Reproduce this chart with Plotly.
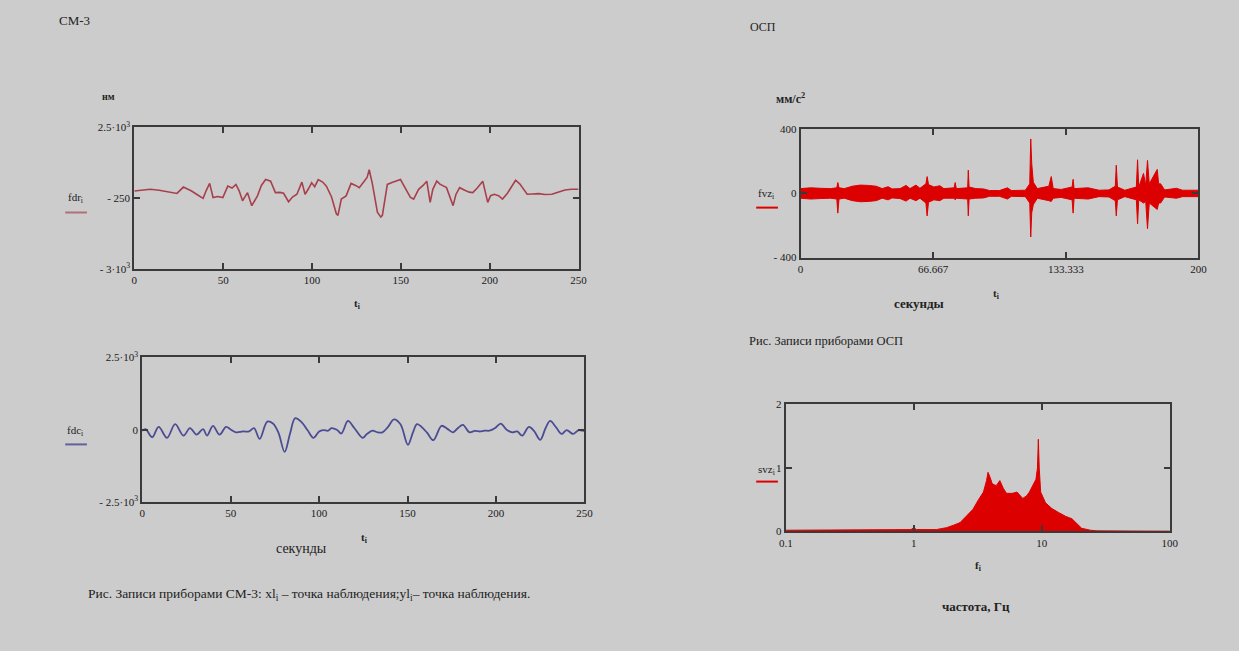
import plotly.graph_objects as go

# The page keeps the browser's default 8px body margin, so the figure is sized to fit the
# 1255x667 window exactly and all reference pixel positions are shifted by that margin.
WIN_W, WIN_H = 1255, 667
OFF = 8
W, H = WIN_W - 2 * OFF, WIN_H - 2 * OFF

# ---------------- data ----------------
# CM-3, first record (fdr), time in seconds
fdr_t = [0, 4, 9, 14, 19, 24, 27.6, 30, 32.2, 35, 38.7, 40.5, 42.4, 44.3, 47, 49.8, 52.6, 55, 57.2,
         59, 60.9, 63.7, 66.1, 69.3, 71.5, 73.9, 76.7, 79.4, 82, 84, 86.8, 89, 91.5, 94.3, 96.1, 98, 99.8,
         101.5, 103.5, 106, 108.1, 111, 113.7, 114.6, 116.5, 119.2, 122, 124.5, 126.6, 129.4, 131, 132.2,
         134, 136.8, 138.7, 139.6, 142.4, 145, 147, 149.8, 152, 155.4, 157.2, 160, 162.5, 164.6, 166.5,
         168, 170.2, 172, 175.7, 179.4, 181, 183.1, 186, 188.5, 190.5, 193, 196.1, 198.9, 200.5, 202.6,
         205, 207.2, 210, 212.5, 214.6, 217, 219, 221.1, 224, 227.6, 231, 235, 238, 242.4, 246, 250]
fdr_v = [34, 70, 100, 60, 10, -60, 186, 120, 34, -92, -254, 60, 327, -218, -180, -218, 224, 150, 288,
         40, -345, -30, -534, -155, 250, 478, 415, -30, -20, -55, -383, -200, -92, 376, -92, 120, 351,
         200, 478, 380, 224, -200, -850, -914, -280, -155, 327, 250, 160, 415, 560, 857,
         300, -787, -978, -913, 288, 360, 415, 478, 200, -218, -280, 100, 250, 414, -409,
         100, 414, 300, 163, -534, -100, 163, 60, -10, -27, 150, 414, -409, -150, -92,
         -150, -280, -50, 250, 452, 300, 100, -92, -80, -70, -100, -92, -20, 72, 100, 100]

# CM-3, second record (fdc)
fdc_t = [0, 1.9, 5.6, 9.3, 14, 18.6, 23.3, 27, 30.7, 34.4, 36.6, 40, 43.7, 47.4, 50, 53, 57, 60.4,
         63.2, 66.4, 70.7, 73.9, 77, 80.5, 83.5, 86.5, 90.3, 93.5, 96.8, 100, 102.3, 105.1, 107, 110,
         112.6, 116.3, 120, 124.6, 127, 130.2, 133, 135.8, 139, 142.3, 146, 150.2, 153, 155.3, 157.5,
         161, 164.6, 169.2, 172.5, 175.7, 178.5, 181.3, 185, 188, 191, 193.5, 196.2, 199.5, 202.7, 206,
         209.2, 212, 214.8, 218.6, 221.5, 225, 228, 230.6, 234, 237.1, 239.9, 243.6, 246.5, 249.2, 250]
fdc_v = [-34, 22, -259, 101, -281, 191, -203, 56, -169, 22, -203, 135, -169, 101, 10, -90, -60, -56,
         56, -315, 281, 214, -100, -765, -150, 400, 248, -20, -281, -60, -11, -34, 56, 0,
         -130, 304, 50, -281, -150, -34, -90, -90, 100, 360, 191, -520, -100, 191, 120,
         -100, -360, 135, 30, -90, 60, 168, -90, -40, -60, -30, -34, 60, 214, 0,
         -90, -60, -203, 101, -40, -349, 50, 304, 80, -146, -11, -146, -20, -34, -34]

# OSP acceleration record (fvz): envelope of the oscillation, mm/s^2
fvz_t = [0, 5, 10, 15, 18.2, 18.7, 19.3, 22, 26, 30, 34, 38, 41, 44, 46, 50, 53, 55, 58, 60, 63,
         63.6, 64.3, 67, 70, 72, 77.2, 77.7, 78.3, 84, 84.3, 84.7, 88, 92, 95, 100, 104, 106, 113,
         115.2, 115.7, 116.2, 117, 119, 124.8, 126, 127, 131, 136.5, 137, 137.5, 144.6, 150, 155,
         158.2, 158.7, 159.3, 163, 168.8, 169.4, 170, 172.4, 173.5, 174.4, 175.3, 179.3, 180, 181,
         183, 189, 192, 200]
fvz_hi = [30, 35, 32, 30, 35, 68, 35, 30, 45, 52, 50, 45, 30, 42, 28, 30, 50, 30, 52, 32, 60,
          105, 55, 40, 48, 30, 35, 68, 30, 35, 145, 40, 30, 28, 18, 18, 35, 18, 20,
          60, 340, 185, 70, 30, 45, 105, 30, 25, 40, 88, 30, 35, 20, 22,
          45, 176, 40, 20, 40, 210, 40, 125, 50, 206, 60, 150, 60, 60,
          22, 32, 20, 20]
fvz_lo = [-30, -35, -32, -30, -35, -123, -35, -30, -45, -52, -50, -45, -30, -40, -28, -32, -48, -30, -45, -30, -60,
          -140, -55, -40, -45, -30, -30, -40, -30, -35, -140, -35, -30, -28, -18, -18, -35, -18, -20,
          -60, -272, -120, -70, -30, -45, -50, -30, -25, -40, -123, -30, -35, -20, -22,
          -45, -140, -40, -20, -40, -190, -40, -60, -50, -220, -60, -100, -60, -60,
          -22, -30, -20, -20]

# OSP spectrum (svz): envelope, frequency in Hz
svz_f = [0.1, 0.2, 0.5, 0.95, 1.0, 1.05, 1.5, 1.8, 2.05, 2.3, 2.6, 2.9, 3.2, 3.5, 3.7, 3.8, 3.95, 4.1,
         4.4, 4.7, 5.0, 5.3, 5.9, 6.4, 7.1, 7.6, 8.0, 8.7, 9.0, 9.25, 9.4, 9.55, 9.8, 10.7, 12, 13.5,
         15.3, 17.2, 18.8, 20.5, 24, 27, 100]
svz_v = [0.02, 0.02, 0.02, 0.03, 0.06, 0.03, 0.03, 0.06, 0.1, 0.14, 0.25, 0.35, 0.5, 0.62, 0.8, 0.93,
         0.85, 0.75, 0.72, 0.8, 0.68, 0.6, 0.6, 0.62, 0.52, 0.56, 0.62, 0.75, 0.82, 1.0, 1.45, 1.0, 0.62,
         0.45, 0.36, 0.3, 0.24, 0.2, 0.12, 0.05, 0.02, 0.01, 0.005]

# ---------------- layout helpers (window pixel -> paper fraction) ----------------
def px_x(x):
    return (x - OFF) / W

def px_y(y):
    return 1 - (y - OFF) / H

SERIF = "Liberation Serif"
GRAY = "#cccccc"
FRAME = "#3a3a3a"
RED = "#dd0000"

fig = go.Figure()

fig.add_trace(go.Scatter(x=fdr_t, y=fdr_v, mode="lines", line=dict(color="#a8404c", width=1.6),
                         xaxis="x", yaxis="y", showlegend=False))
fig.add_trace(go.Scatter(x=fdc_t, y=fdc_v, mode="lines", line=dict(color="#4c4c94", width=1.8, shape="spline"),
                         xaxis="x2", yaxis="y2", showlegend=False))
fig.add_trace(go.Scatter(x=fvz_t, y=fvz_hi, mode="lines", line=dict(color=RED, width=1),
                         xaxis="x3", yaxis="y3", showlegend=False))
fig.add_trace(go.Scatter(x=fvz_t, y=fvz_lo, mode="lines", line=dict(color=RED, width=1),
                         fill="tonexty", fillcolor=RED, xaxis="x3", yaxis="y3", showlegend=False))
fig.add_trace(go.Scatter(x=svz_f, y=svz_v, mode="lines", line=dict(color=RED, width=1),
                         fill="tozeroy", fillcolor=RED, xaxis="x4", yaxis="y4", showlegend=False))

def axis_common(**kw):
    d = dict(showline=True, linecolor=FRAME, linewidth=2, mirror="ticks", ticks="inside",
             ticklen=6, tickwidth=1.5, tickcolor=FRAME, showgrid=False, zeroline=False,
             tickfont=dict(family=SERIF, size=11, color="#1a1a1a"), fixedrange=True)
    d.update(kw)
    return d

panels = {
    "1": (137, 587, 130, 275),
    "2": (145, 593, 365, 513),
    "3": (812, 1215, 132, 263),
    "4": (797, 1186, 413, 543),
}

def dom(p):
    x0, x1, y0, y1 = panels[p]
    return [px_x(x0), px_x(x1)], [px_y(y1), px_y(y0)]

d1x, d1y = dom("1")
d2x, d2y = dom("2")
d3x, d3y = dom("3")
d4x, d4y = dom("4")

fig.update_layout(
    xaxis=axis_common(domain=d1x, anchor="y", range=[0, 250], tickvals=[0, 50, 100, 150, 200, 250]),
    yaxis=axis_common(domain=d1y, anchor="x", range=[-3000, 2500], tickvals=[-3000, -250, 2500],
                      ticktext=["- 3·10<sup>3</sup>", "- 250", "2.5·10<sup>3</sup>"]),
    xaxis2=axis_common(domain=d2x, anchor="y2", range=[0, 250], tickvals=[0, 50, 100, 150, 200, 250]),
    yaxis2=axis_common(domain=d2y, anchor="x2", range=[-2500, 2500], tickvals=[-2500, 0, 2500],
                       ticktext=["- 2.5·10<sup>3</sup>", "0", "2.5·10<sup>3</sup>"]),
    xaxis3=axis_common(domain=d3x, anchor="y3", range=[0, 200], tickvals=[0, 66.667, 133.333, 200],
                       ticktext=["0", "66.667", "133.333", "200"]),
    yaxis3=axis_common(domain=d3y, anchor="x3", range=[-400, 400], tickvals=[-400, 0, 400],
                       ticktext=["- 400", "0", "400"]),
    xaxis4=axis_common(domain=d4x, anchor="y4", type="log", range=[-1, 2], tickvals=[0.1, 1, 10, 100],
                       ticktext=["0.1", "1", "10", "100"]),
    yaxis4=axis_common(domain=d4y, anchor="x4", range=[0, 2], tickvals=[0, 1, 2]),
)

shapes = []
# legend-like line samples
for (x0, x1, y, c) in [(67, 89, 217, "#b07078"), (67, 89, 454, "#6060a0"),
                       (767, 789, 212, RED), (767, 789, 492, RED)]:
    shapes.append(dict(type="line", xref="paper", yref="paper", x0=px_x(x0), x1=px_x(x1),
                       y0=px_y(y), y1=px_y(y), line=dict(color=c, width=2)))

annotations = []

def txt(x, y, s, size=12, bold=False, xanchor="center", color="#222222"):
    if bold:
        s = "<b>" + s + "</b>"
    annotations.append(dict(x=px_x(x), y=px_y(y), xref="paper", yref="paper", text=s, showarrow=False,
                            xanchor=xanchor, yanchor="middle",
                            font=dict(family=SERIF, size=size, color=color)))

txt(76, 21, "СМ-3", 13)
txt(774, 27, "ОСП", 12)
txt(111, 98, "нм", 10, bold=True)
txt(77, 202, "fdr<sub>i</sub>", 11)
txt(363, 310, "t<sub>i</sub>", 11, bold=True)
txt(77, 440, "fdc<sub>i</sub>", 11)
txt(370, 550, "t<sub>i</sub>", 11, bold=True)
txt(306, 560, "секунды", 14)
txt(802, 100, "мм/с<sup>2</sup>", 12, bold=True)
txt(777, 198, "fvz<sub>i</sub>", 11)
txt(1010, 300, "t<sub>i</sub>", 11, bold=True)
txt(932, 310, "секунды", 13, bold=True)
txt(758, 348, "Рис. Записи приборами ОСП", 12.5, xanchor="left")
txt(777, 480, "svz<sub>i</sub>", 11)
txt(992, 578, "f<sub>i</sub>", 11, bold=True)
txt(990, 620, "частота, Гц", 13, bold=True)
txt(88, 607, "Рис. Записи приборами СМ-3: xl<sub>i</sub> – точка наблюдения;yl<sub>i</sub>– точка наблюдения.",
    13.5, xanchor="left")

fig.update_layout(
    width=W, height=H, autosize=False,
    margin=dict(l=0, r=0, t=0, b=0),
    paper_bgcolor=GRAY, plot_bgcolor=GRAY,
    shapes=shapes, annotations=annotations, showlegend=False,
)

fig.write_html("out.html", config={"displayModeBar": False})
